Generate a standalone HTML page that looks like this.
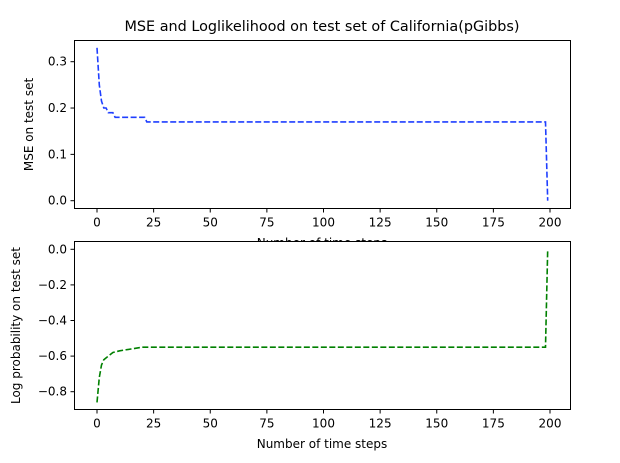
<!DOCTYPE html>
<html><head><meta charset="utf-8"><style>
body{margin:0;background:#fff;font-family:"Liberation Sans","DejaVu Sans",sans-serif;}
svg text{font-family:"DejaVu Sans","Liberation Sans",sans-serif;font-size:12px;fill:#000;}
</style></head><body>
<svg id="c" width="620" height="458"></svg>
<script>
const mseSteps=[0,1,2,3,4,5,6,7,8,10,15,21,22,50,100,150,198,199];
const mseValues=[0.33,0.25,0.215,0.2,0.2,0.19,0.19,0.19,0.18,0.18,0.18,0.18,0.17,0.17,0.17,0.17,0.17,0.0];
const llSteps=[0,1,2,3,4,5,7,10,15,20,50,100,150,198,199];
const llValues=[-0.86,-0.72,-0.65,-0.62,-0.61,-0.60,-0.58,-0.57,-0.56,-0.55,-0.55,-0.55,-0.55,-0.55,0.0];
const xTicks=[0,25,50,75,100,125,150,175,200];
const mseTicks=[0.0,0.1,0.2,0.3];
const llTicks=[0.0,-0.2,-0.4,-0.6,-0.8];
const NS="http://www.w3.org/2000/svg",svg=document.getElementById('c');
function mk(t,a,p){const e=document.createElementNS(NS,t);for(const k in a)e.setAttribute(k,a[k]);(p||svg).appendChild(e);return e;}
const xs=t=>97+t*(550-97)/200;
function panel(top,bot,ys,ticks,fmt,steps,vals,color,ylabel,name,ylx){
  const g=mk('g',{});
  
  
  mk('rect',{x:74.5,y:top,width:496,height:bot-top,fill:'#fff',stroke:'#000','stroke-width':1},g);
  xTicks.forEach(t=>{const x=xs(t);mk('line',{x1:x,x2:x,y1:bot,y2:bot+4,stroke:'#000'},g);
    const tx=mk('text',{x:x,y:bot+18,'text-anchor':'middle'},g);tx.textContent=t;
    
    });
  ticks.forEach(v=>{const y=ys(v);mk('line',{x1:70.5,x2:74.5,y1:y,y2:y,stroke:'#000'},g);
    const tx=mk('text',{x:67,y:y+4,'text-anchor':'end'},g);tx.textContent=fmt(v);
    
    });
  const d=steps.map((s,i)=>(i?'L':'M')+xs(s).toFixed(1)+','+ys(vals[i]).toFixed(1)).join('');
  const p=mk('path',{d:d,fill:'none',stroke:color,'stroke-width':1.6,'stroke-dasharray':'6,2.5'},g);
  
  
  const yl=mk('text',{transform:`translate(${ylx},${(top+bot)/2}) rotate(-90)`,'text-anchor':'middle'},g);
  yl.textContent=ylabel;
  
  
}
const ysTop=v=>200.7-v*(200.7-61.7)/0.3;
const ysBot=v=>249.3+(v/-0.8)*(391.7-249.3);
panel(40.5,208.5,ysTop,mseTicks,v=>v.toFixed(1),mseSteps,mseValues,'#1f3fff','MSE on test set','mse-panel',33);
const x1=mk('text',{x:322,y:247,'text-anchor':'middle'});x1.textContent='Number of time steps';


panel(241.5,409.5,ysBot,llTicks,v=>(v<0?'\u2212':'')+Math.abs(v).toFixed(1),llSteps,llValues,'#008000','Log probability on test set','ll-panel',20);
const x2=mk('text',{x:322,y:448,'text-anchor':'middle'});x2.textContent='Number of time steps';


const ti=mk('text',{x:322,y:31,'text-anchor':'middle',style:'font-size:14.4px'});ti.textContent='MSE and Loglikelihood on test set of California(pGibbs)';


</script>
</body></html>
